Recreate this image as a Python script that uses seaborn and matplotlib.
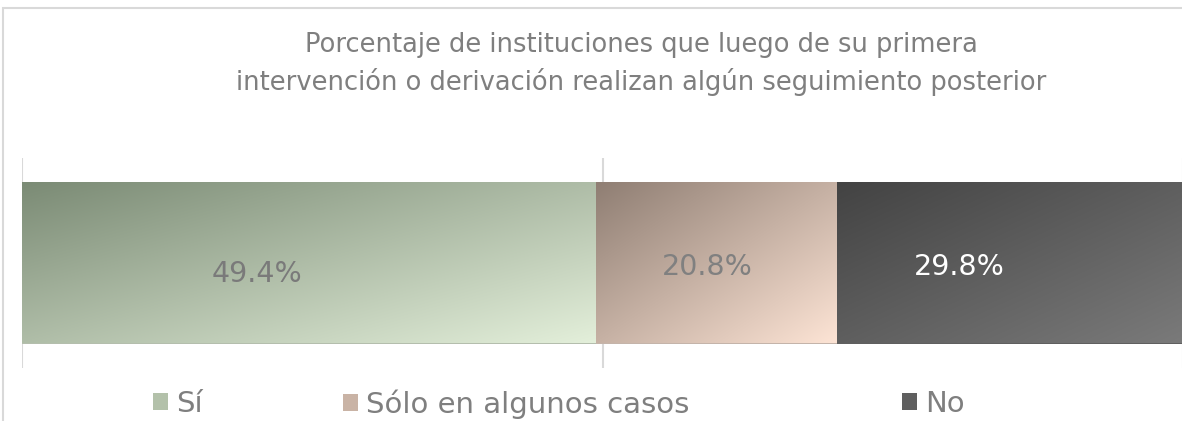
import numpy as np
import pandas as pd
import matplotlib
matplotlib.use('Agg')
from matplotlib import pyplot as plt
from matplotlib.patches import Patch, Rectangle
import seaborn as sns

# datos del grafico
categorias = ['Sí', 'Sólo en algunos casos', 'No']
valores = [49.4, 20.8, 29.8]
titulo = ('Porcentaje de instituciones que luego de su primera\n'
          'intervención o derivación realizan algún seguimiento posterior')

# colores del degradado (arriba-izquierda -> abajo-derecha)
color_ini = ['#7b8b75', '#8f7e73', '#434343']
color_fin = ['#e3efda', '#fde4d5', '#7a7a7a']
color_leyenda = ['#b3c1aa', '#c9b3a5', '#5f5f5f']
color_etiqueta = ['#7a7a7a', '#808080', '#ffffff']
ajuste_x = [-4.5, -0.8, -4.4]     # corrimiento horizontal de etiquetas (en %)
ajuste_y = [0.05, 0.02, 0.02]     # corrimiento vertical de etiquetas
leyenda_x = [153, 343, 902]       # posicion de cada item de leyenda (px)

df = pd.DataFrame({'grupo': ['total'] * 3, 'categoria': categorias, 'valor': valores})
df['acumulado'] = df['valor'].cumsum()
df['inicio'] = df['acumulado'] - df['valor']

sns.set_theme(style='white')
plt.rcParams['font.family'] = ['DejaVu Sans']

W, H = 1182, 421
fig = plt.figure(figsize=(W / 100, H / 100), dpi=100)
ax = fig.add_axes([22 / W, 1 - 368 / H, (1183 - 22) / W, 210 / H])

# barras apiladas: se dibujan las acumuladas de mayor a menor
for i in reversed(range(len(df))):
    sns.barplot(data=df.iloc[[i]], x='acumulado', y='grupo', orient='h',
                color=color_leyenda[i], width=161 / 210, ax=ax, zorder=2,
                linewidth=0)

# degradado diagonal en cada segmento
bar = ax.patches[0]
y_top = bar.get_y()
y_bot = bar.get_y() + bar.get_height()
u = np.linspace(0, 1, 300)[None, :]
v = np.linspace(0, 1, 80)[:, None]
t = (u + v) / 2
for i, row in df.iterrows():
    c0 = np.array(matplotlib.colors.to_rgb(color_ini[i]))
    c1 = np.array(matplotlib.colors.to_rgb(color_fin[i]))
    img = c0[None, None, :] * (1 - t[..., None]) + c1[None, None, :] * t[..., None]
    ax.imshow(img, extent=(row['inicio'], row['acumulado'], y_bot, y_top),
              aspect='auto', interpolation='bilinear', zorder=3)
    ax.text(row['inicio'] + row['valor'] / 2 + ajuste_x[i], ajuste_y[i],
            f"{row['valor']:.1f}%", ha='center', va='center',
            fontsize=20.5, color=color_etiqueta[i], zorder=4)

ax.set_xlim(0, 100)
ax.set_ylim(0.5, -0.5)
ax.set_xticks([0, 50, 100])
ax.set_xticklabels([])
ax.set_yticks([])
ax.tick_params(length=0)
ax.grid(axis='x', color='#d9d9d9', linewidth=1.5, zorder=0)
ax.set_axisbelow(True)
ax.set_xlabel('')
ax.set_ylabel('')
sns.despine(ax=ax, left=True, bottom=True)

# titulo
fig.text(641 / W, 1 - 64 / H, titulo, ha='center', va='center',
         fontsize=18.5, color='#7f7f7f', linespacing=1.45)

# leyenda (un item por posicion)
for i, cat in enumerate(categorias):
    h = Patch(facecolor=color_leyenda[i], edgecolor='none')
    fig.legend([h], [cat], loc='center left',
               bbox_to_anchor=(leyenda_x[i] / W, 1 - 404 / H),
               frameon=False, fontsize=21, labelcolor='#7f7f7f',
               handlelength=0.5, handleheight=0.5, handletextpad=0.3,
               borderpad=0, borderaxespad=0)

# borde del area del grafico
fig.add_artist(Rectangle((3 / W, -0.1), 1.2, 1.1 - 8 / H, transform=fig.transFigure,
                         fill=False, edgecolor='#d9d9d9', linewidth=1.5))

fig.savefig('out.png', dpi=100)
